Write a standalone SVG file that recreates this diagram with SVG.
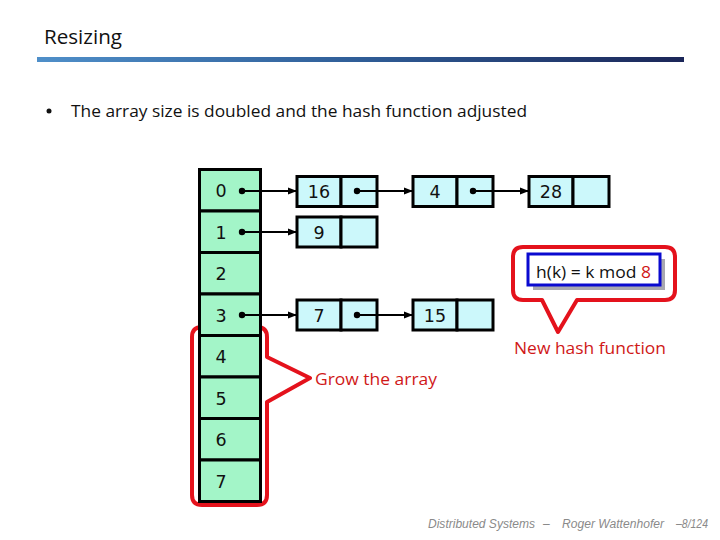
<svg xmlns="http://www.w3.org/2000/svg" width="720" height="540" viewBox="0 0 720 540">
<defs>
<linearGradient id="bar" x1="0" y1="0" x2="1" y2="0">
<stop offset="0" stop-color="#4f8fc9"/>
<stop offset="0.5" stop-color="#2f5d97"/>
<stop offset="1" stop-color="#1b2658"/>
</linearGradient>
<marker id="arr" viewBox="0 0 9 8" refX="9" refY="4" markerWidth="9" markerHeight="8" markerUnits="userSpaceOnUse" orient="auto">
<path d="M0,0.5 L9,4 L0,7.5 Z" fill="#000"/>
</marker>
<style>
.slot{fill:#a3f5c8;stroke:#000;stroke-width:3}
.cell{fill:#ccf8fb;stroke:#000;stroke-width:3}
.lbl{font-family:"DejaVu Sans",Verdana,sans-serif;font-size:17.5px;fill:#111;text-anchor:middle}
.cal{font-family:"Open Sans","Liberation Sans",sans-serif;font-size:17px}
.red{fill:#d01818}
.call{fill:#fff;stroke:#e4121c;stroke-width:4;stroke-linejoin:round}
.con{stroke:#000;stroke-width:2;fill:none;marker-end:url(#arr)}
.dot{fill:#000}
.foot{font-family:"Liberation Sans",Arial,sans-serif;font-style:italic;font-size:12px;fill:#8a8a8a}
</style>
</defs>
<rect width="720" height="540" fill="#fff"/>
<text x="44" y="44" font-family="'Open Sans','Liberation Sans',sans-serif" font-size="20" fill="#111" textLength="78" lengthAdjust="spacingAndGlyphs">Resizing</text>
<rect x="37" y="57" width="647" height="5" fill="url(#bar)"/>
<circle cx="49" cy="111" r="2.5" fill="#111"/>
<text x="71" y="117" class="cal" fill="#111" textLength="456" lengthAdjust="spacingAndGlyphs">The array size is doubled and the hash function adjusted</text>

<g id="grow-callout">
<path class="call" d="M202 327 H257 Q267 327 267 337 V357 L310 378 L267 402 V495 Q267 505 257 505 H202 Q192 505 192 495 V337 Q192 327 202 327 Z"/>
<text x="315" y="385" class="cal red" textLength="122" lengthAdjust="spacingAndGlyphs">Grow the array</text>
</g>

<g id="hash-callout">
<path class="call" d="M523 247 H665 Q675 247 675 257 V290 Q675 300 665 300 H577 L558 332 L542 300 H523 Q513 300 513 290 V257 Q513 247 523 247 Z"/>
<rect x="533" y="259" width="132" height="31" fill="#a8a8b0"/>
<rect x="528" y="254" width="132" height="31" fill="#fff" stroke="#0a0ad0" stroke-width="3"/>
<text x="536" y="278" class="cal" fill="#111" textLength="115" lengthAdjust="spacingAndGlyphs">h(k) = k mod <tspan class="red">8</tspan></text>
<text x="514" y="354" class="cal red" textLength="152" lengthAdjust="spacingAndGlyphs">New hash function</text>
</g>

<g id="array">
<rect class="slot" x="199.5" y="169.5" width="61" height="41.5"/>
<rect class="slot" x="199.5" y="211" width="61" height="41.5"/>
<rect class="slot" x="199.5" y="252.5" width="61" height="41.5"/>
<rect class="slot" x="199.5" y="294" width="61" height="41.5"/>
<rect class="slot" x="199.5" y="335.5" width="61" height="41.5"/>
<rect class="slot" x="199.5" y="377" width="61" height="41.5"/>
<rect class="slot" x="199.5" y="418.5" width="61" height="41.5"/>
<rect class="slot" x="199.5" y="460" width="61" height="41.5"/>
<text class="lbl" x="221" y="197">0</text>
<text class="lbl" x="221" y="239">1</text>
<text class="lbl" x="221" y="280">2</text>
<text class="lbl" x="221" y="322">3</text>
<text class="lbl" x="221" y="363">4</text>
<text class="lbl" x="221" y="405">5</text>
<text class="lbl" x="221" y="446">6</text>
<text class="lbl" x="221" y="488">7</text>
</g>

<g id="n16"><rect class="cell" x="297" y="176.5" width="44" height="30"/><rect class="cell" x="341" y="176.5" width="36" height="30"/><text class="lbl" x="319" y="198">16</text></g>
<g id="n4"><rect class="cell" x="413" y="176.5" width="44" height="30"/><rect class="cell" x="457" y="176.5" width="36" height="30"/><text class="lbl" x="435" y="198">4</text></g>
<g id="n28"><rect class="cell" x="529" y="176.5" width="44" height="30"/><rect class="cell" x="573" y="176.5" width="36" height="30"/><text class="lbl" x="551" y="198">28</text></g>
<g id="n9"><rect class="cell" x="297" y="217" width="44" height="30"/><rect class="cell" x="341" y="217" width="36" height="30"/><text class="lbl" x="319" y="239">9</text></g>
<g id="n7"><rect class="cell" x="297" y="300" width="44" height="30"/><rect class="cell" x="341" y="300" width="36" height="30"/><text class="lbl" x="319" y="322">7</text></g>
<g id="n15"><rect class="cell" x="413" y="300" width="44" height="30"/><rect class="cell" x="457" y="300" width="36" height="30"/><text class="lbl" x="435" y="322">15</text></g>

<g id="connectors">
<circle class="dot" cx="242" cy="191" r="3.2"/><line class="con" x1="242" y1="191" x2="297" y2="191"/>
<circle class="dot" cx="357" cy="191" r="3.2"/><line class="con" x1="357" y1="191" x2="413" y2="191"/>
<circle class="dot" cx="473" cy="191" r="3.2"/><line class="con" x1="473" y1="191" x2="529" y2="191"/>
<circle class="dot" cx="242" cy="232" r="3.2"/><line class="con" x1="242" y1="232" x2="297" y2="232"/>
<circle class="dot" cx="242" cy="315" r="3.2"/><line class="con" x1="242" y1="315" x2="297" y2="315"/>
<circle class="dot" cx="357" cy="315" r="3.2"/><line class="con" x1="357" y1="315" x2="413" y2="315"/>
</g>

<text class="foot" y="528"><tspan x="428" textLength="107" lengthAdjust="spacingAndGlyphs">Distributed Systems</tspan><tspan x="543">–</tspan><tspan x="562" textLength="102" lengthAdjust="spacingAndGlyphs">Roger Wattenhofer</tspan><tspan x="676" textLength="32" lengthAdjust="spacingAndGlyphs">–8/124</tspan></text>
</svg>
